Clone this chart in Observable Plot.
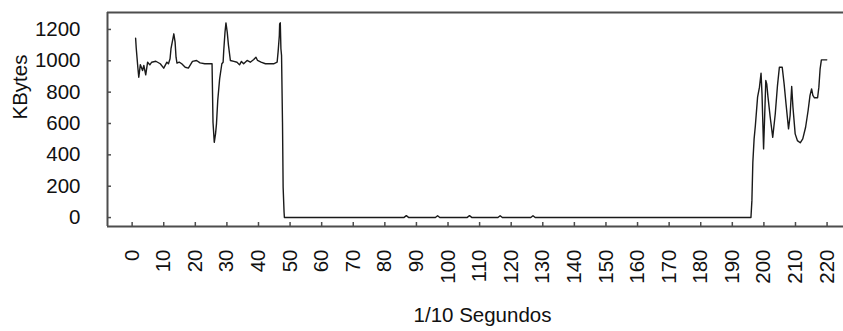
<!DOCTYPE html>
<html>
<head>
<meta charset="utf-8">
<script src="https://cdn.jsdelivr.net/npm/d3@7"></script>
<script src="https://cdn.jsdelivr.net/npm/@observablehq/plot@0.6"></script>
<style>
  html, body { margin: 0; padding: 0; background: #fff; }
</style>
</head>
<body>
<div id="chart"></div>
<script>
// Tiempo en décimas de segundo
const tiempo = [
  1.1, 1.3, 1.8, 2.1, 2.6, 3.3, 3.7, 4.3, 4.9, 5.6, 6.2, 7.5, 8.9, 10, 11, 11.5, 12, 12.3, 12.9, 13.2,
  13.6, 13.9, 14.2, 14.9, 15.7, 16.8, 17.8, 19.1, 20.4, 21.5, 23, 25.3, 25.4, 25.6, 26, 26.4, 26.7, 27.1, 27.7, 28.4,
  28.8, 29, 29.4, 29.7, 30.1, 30.5, 31.1, 32.2, 33.2, 34, 34.6, 35.3, 36.4, 37.4, 38.5, 39.2, 39.7, 40.8, 42.2, 44.8,
  45.9, 46.2, 46.6, 46.7, 46.9, 47.1, 47.3, 47.6, 47.8, 48.1, 48.2,
  86, 86.8, 87.6, 96, 96.7, 97.4, 106, 106.8, 107.6, 115.8, 116.5, 117.2, 126.2, 126.9, 127.6, 195.9,
  196.2, 196.5, 196.9, 197.3, 198, 198.6, 199.1, 199.4, 199.9, 200.2, 200.6, 200.9, 201.3, 202, 202.8, 203.6, 204.3, 204.9, 205.8,
  206.4, 207, 207.8, 208.3, 208.8, 209.2, 209.9, 210.6, 211.5, 212.3, 213.2, 214, 214.6, 215.1, 215.5, 216, 217, 217.4, 217.8,
  218.2, 219.9
];

// Tráfico recibido (KBytes)
const kbytes = [
  1144, 1080, 959, 895, 975, 938, 970, 910, 991, 974, 991, 997, 981, 953, 991, 981, 1013, 1077, 1140, 1172,
  1119, 1023, 985, 991, 981, 959, 953, 996, 1002, 987, 981, 981, 853, 608, 480, 534, 598, 747, 885, 981,
  991, 1066, 1183, 1242, 1183, 1098, 1002, 996, 991, 974, 996, 981, 1002, 991, 1008, 1023, 1002, 991, 981, 981,
  991, 1055, 1161, 1236, 1242, 1077, 1034, 608, 193, 34, 0,
  0, 12, 0, 0, 12, 0, 0, 12, 0, 0, 12, 0, 0, 12, 0, 0,
  108, 353, 502, 587, 768, 832, 921, 789, 438, 619, 874, 853, 768, 640, 512, 662, 842, 959, 959,
  853, 726, 566, 651, 836, 704, 534, 491, 477, 502, 576, 683, 779, 821, 779, 764, 764, 832, 949,
  1006, 1006
];

const xTicks = [0, 10, 20, 30, 40, 50, 60, 70, 80, 90, 100, 110, 120, 130, 140, 150, 160, 170, 180, 190, 200, 210, 220];
const yTicks = [0, 200, 400, 600, 800, 1000, 1200];
const xDomain = [-7.8, 225.2];
const yDomain = [-57, 1308];

const xLabel = "1/10 Segundos";
const yLabel = "KBytes";

const width = 843, height = 331;
const margin = {top: 12, right: 0, bottom: 105, left: 107};
const plotW = width - margin.left - margin.right;
const plotH = height - margin.top - margin.bottom;

const serie = tiempo.map((t, i) => ({t, v: kbytes[i]}));
const axisColor = "#4d4d4d";
const plain = d => String(d);

const chart = Plot.plot({
  width, height,
  marginTop: margin.top, marginRight: margin.right, marginBottom: margin.bottom, marginLeft: margin.left,
  style: {
    fontFamily: "'Liberation Sans', Arial, sans-serif",
    fontSize: "20.5px",
    color: "#111",
    background: "#fff"
  },
  x: {domain: xDomain, label: null},
  y: {domain: yDomain, label: null},
  marks: [
    // Marco: arriba, izquierda y abajo
    Plot.ruleY([yDomain[1]], {stroke: axisColor, strokeWidth: 2}),
    Plot.ruleY([yDomain[0]], {stroke: axisColor, strokeWidth: 2}),
    Plot.ruleX([xDomain[0]], {stroke: axisColor, strokeWidth: 2}),
    // Marcas interiores de los ejes
    Plot.tickY(yTicks, {y: d => d, stroke: axisColor, strokeWidth: 1.5, insetRight: plotW - 4}),
    Plot.tickX(xTicks, {x: d => d, stroke: axisColor, strokeWidth: 1.5, insetTop: plotH - 4}),
    // Etiquetas de los ejes
    Plot.axisY(yTicks, {tickSize: 0, tickPadding: 27, tickFormat: plain, fill: "#111"}),
    Plot.axisX(xTicks, {tickSize: 0, tickPadding: 23, tickRotate: -90, tickFormat: plain, fill: "#111"}),
    Plot.text([yLabel], {frameAnchor: "left", dx: -87, rotate: -90, fill: "#111"}),
    Plot.text([xLabel], {frameAnchor: "bottom", dx: 7, dy: 95, fill: "#111"}),
    // Serie
    Plot.line(serie, {x: "t", y: "v", stroke: "#1a1a1a", strokeWidth: 1.4})
  ]
});

document.getElementById("chart").appendChild(chart);
</script>
</body>
</html>
